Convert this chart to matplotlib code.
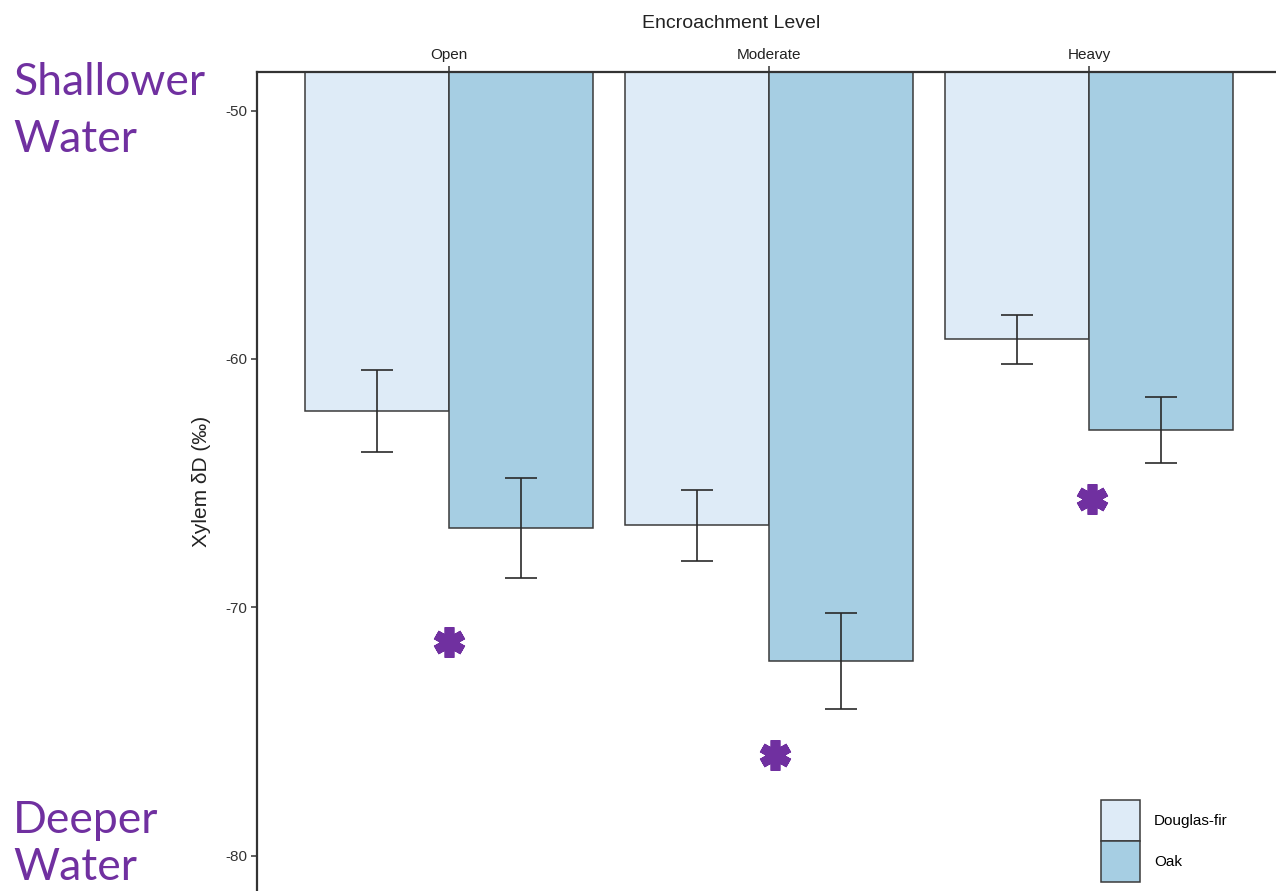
#! /usr/bin/env python3
# -*- coding: utf-8 -*-
import matplotlib
matplotlib.use('Agg')
import matplotlib.pyplot as plt
from matplotlib.markers import MarkerStyle
import numpy as np

# data
levels = ['Open', 'Moderate', 'Heavy']
species = ['Douglas-fir', 'Oak']
mean_df = [-62.1, -66.7, -59.2]
se_df = [1.66, 1.41, 0.99]
mean_oak = [-66.8, -72.15, -62.85]
se_oak = [2.02, 1.93, 1.32]
star_x = [1.00, 2.02, 3.01]
star_y = [-71.4, -75.95, -65.65]

Colors = ['#deebf7', '#a6cee3']
Purple = '#7030a0'
Font = ['Liberation Sans', 'DejaVu Sans']


def plotXylem():
    W, H = 1276, 891
    fig = plt.figure(figsize=(W / 100, H / 100), dpi=100)
    ax = fig.add_axes([257 / W, 0, 1024 / W, (H - 72) / H])
    x = np.arange(1, len(levels) + 1)
    bw = 0.45

    ax.bar(x - bw / 2, mean_df, bw, color=Colors[0], edgecolor='#3a3a3a',
           lw=1.1, label=species[0], zorder=2)
    ax.bar(x + bw / 2, mean_oak, bw, color=Colors[1], edgecolor='#3a3a3a',
           lw=1.1, label=species[1], zorder=2)
    ax.errorbar(x - bw / 2, mean_df, yerr=se_df, fmt='none', ecolor='#2a2a2a',
                elinewidth=1.2, capsize=11.5, capthick=1.2, zorder=3)
    ax.errorbar(x + bw / 2, mean_oak, yerr=se_oak, fmt='none', ecolor='#2a2a2a',
                elinewidth=1.2, capsize=11.5, capthick=1.2, zorder=3)

    star = MarkerStyle((6, 2, 0), capstyle='round')
    ax.plot(star_x, star_y, ls='none', marker=star, ms=22, mew=7,
            color=Purple, zorder=4)

    ax.set_xlim(0.4, 3.6)
    ax.set_ylim(-81.41, -48.45)
    ax.xaxis.tick_top()
    ax.set_xticks(x)
    ax.set_xticklabels(levels, family=Font, fontsize=11, color='#222222')
    ax.set_yticks([-50, -60, -70, -80])
    ax.set_yticklabels(['-50', '-60', '-70', '-80'], family=Font, fontsize=11,
                       color='#333333')
    ax.tick_params(axis='both', length=4, width=1.1, color='#333333', pad=3)
    for s in ['bottom', 'right']:
        ax.spines[s].set_visible(False)
    for s in ['top', 'left']:
        ax.spines[s].set_color('#333333')
        ax.spines[s].set_linewidth(1.6)

    ax.set_ylabel('Xylem δD (‰)', family=Font, fontsize=15, color='#222222',
                  labelpad=10)
    fig.text(731 / W, 1 - 24 / H, 'Encroachment Level', family=Font,
             fontsize=14, ha='center', va='center', color='#222222')

    ax.legend(loc='upper left', bbox_to_anchor=(1101 / W, 1 - 800 / H),
              bbox_transform=fig.transFigure, frameon=False, prop={'family': Font, 'size': 11},
              handlelength=2.55, handleheight=3.75, labelspacing=0,
              handletextpad=0.92, borderpad=0, borderaxespad=0)

    side = dict(family=['Lato', 'DejaVu Sans'], fontsize=32, color=Purple,
                ha='left', va='baseline')
    fig.text(13 / W, 1 - 95 / H, 'Shallower', **side)
    fig.text(13 / W, 1 - 152 / H, 'Water', **side)
    fig.text(13 / W, 1 - 833 / H, 'Deeper', **side)
    fig.text(13 / W, 1 - 880 / H, 'Water', **side)

    fig.savefig('out.png', dpi=100)
    return


def main():
    plotXylem()


if __name__ == '__main__':
    main()
